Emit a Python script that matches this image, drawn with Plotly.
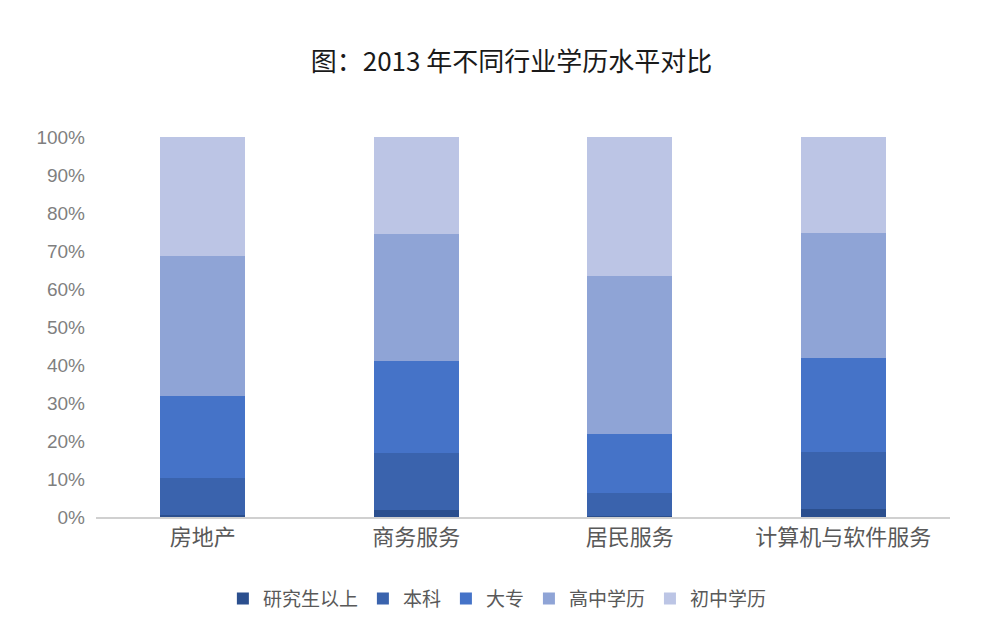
import plotly.graph_objects as go

categories = ["房地产", "商务服务", "居民服务", "计算机与软件服务"]
series_names = ["研究生以上", "本科", "大专", "高中学历", "初中学历"]
grad = [0.5, 1.8, 0.3, 2.0]
bachelor = [9.8, 15.0, 6.0, 15.1]
college = [21.5, 24.2, 15.5, 24.7]
high = [36.9, 33.5, 41.6, 32.9]
middle = [31.3, 25.5, 36.6, 25.3]
tick_vals = [0, 10, 20, 30, 40, 50, 60, 70, 80, 90, 100]
tick_text = ["0%", "10%", "20%", "30%", "40%", "50%", "60%", "70%", "80%", "90%", "100%"]

colors = ["#2b4f8e", "#3a63ad", "#4573c8", "#8fa4d6", "#bcc5e5"]
values = [grad, bachelor, college, high, middle]

fig = go.Figure()
for name, vals, c in zip(series_names, values, colors):
    fig.add_trace(go.Bar(x=categories, y=vals, name=name, marker=dict(color=c, line=dict(width=0)), width=0.4))

fig.update_layout(
    barmode="stack",
    width=999, height=635,
    margin=dict(l=96, r=49, t=137, b=118),
    paper_bgcolor="white", plot_bgcolor="white",
    font=dict(family="Noto Sans CJK SC", color="#595959"),
    title=dict(text="图：2013 年不同行业学历水平对比", x=0.512, xanchor="center", y=0.902, yanchor="middle",
               font=dict(size=26, color="#1a1a1a", family="Noto Sans CJK SC")),
    xaxis=dict(showgrid=False, showline=True, linecolor="#d0d0d0", linewidth=1.5, ticks="",
               tickfont=dict(size=22, color="#595959")),
    yaxis=dict(range=[0, 100], tickvals=tick_vals, ticktext=tick_text, showgrid=False, zeroline=False,
               showline=False, tickfont=dict(size=19, color="#7f7f7f", family="Liberation Sans"), ticklabelstandoff=10),
    legend=dict(orientation="h", x=0.47, xanchor="center", y=-0.215, yanchor="middle",
                font=dict(size=19, color="#595959"), traceorder="normal", itemwidth=30),
    showlegend=True,
)
fig.write_html("out.html")
